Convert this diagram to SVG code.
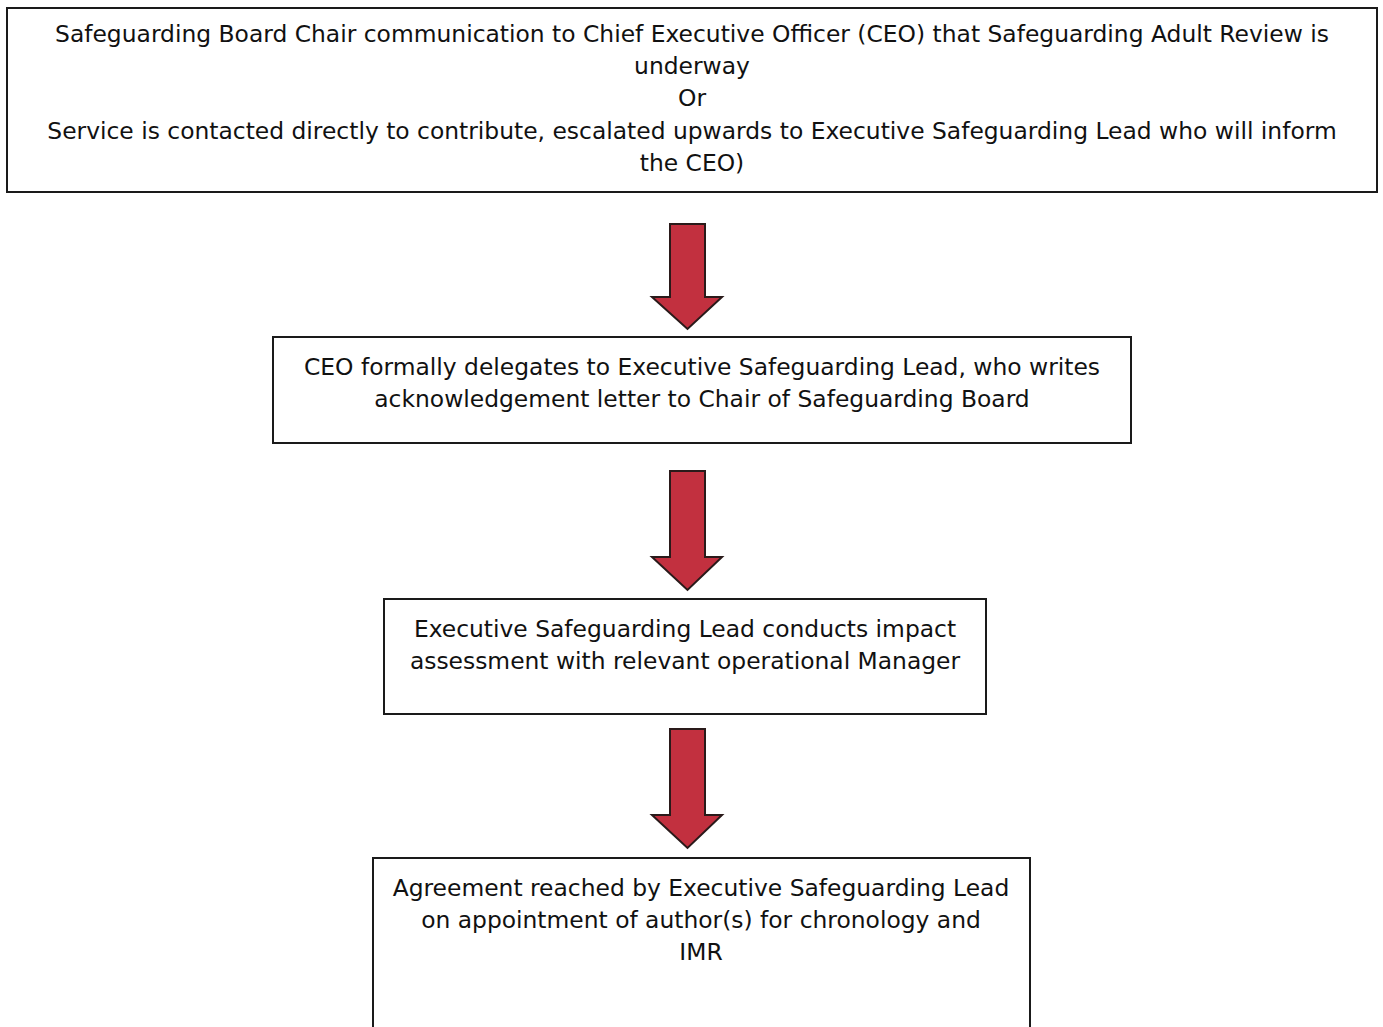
<svg xmlns="http://www.w3.org/2000/svg" width="1383" height="1027" viewBox="0 0 1383 1027">
<defs>
<style>
.box{fill:#fff;stroke:#1a1a1a;stroke-width:2}
.t{font-family:"DejaVu Sans","Liberation Sans",sans-serif;font-size:23.4px;fill:#111;text-anchor:middle}
.arr{fill:#c2303f;stroke:#2a1a1a;stroke-width:2;stroke-linejoin:miter}
</style>
</defs>
<rect width="1383" height="1027" fill="#fff"/>
<g id="connectors">
<path class="arr" d="M670,224 H705 V297 H722 L687.5,329 L652,297 H670 Z"/>
<path class="arr" d="M670,471 H705 V557 H722 L687.5,590 L652,557 H670 Z"/>
<path class="arr" d="M670,729 H705 V815 H722 L687.5,848 L652,815 H670 Z"/>
</g>
<g id="n1">
<rect class="box" x="7" y="8" width="1370" height="184"/>
<text class="t" x="692" y="42">Safeguarding Board Chair communication to Chief Executive Officer (CEO) that Safeguarding Adult Review is</text>
<text class="t" x="692" y="74">underway</text>
<text class="t" x="692" y="106">Or</text>
<text class="t" x="692" y="139">Service is contacted directly to contribute, escalated upwards to Executive Safeguarding Lead who will inform</text>
<text class="t" x="692" y="171">the CEO)</text>
</g>
<g id="n2">
<rect class="box" x="273" y="337" width="858" height="106"/>
<text class="t" x="702" y="375">CEO formally delegates to Executive Safeguarding Lead, who writes</text>
<text class="t" x="702" y="407">acknowledgement letter to Chair of Safeguarding Board</text>
</g>
<g id="n3">
<rect class="box" x="384" y="599" width="602" height="115"/>
<text class="t" x="685" y="637">Executive Safeguarding Lead conducts impact</text>
<text class="t" x="685" y="669">assessment with relevant operational Manager</text>
</g>
<g id="n4">
<rect class="box" x="373" y="858" width="657" height="180"/>
<text class="t" x="701" y="896">Agreement reached by Executive Safeguarding Lead</text>
<text class="t" x="701" y="928">on appointment of author(s) for chronology and</text>
<text class="t" x="701" y="960">IMR</text>
</g>
</svg>
